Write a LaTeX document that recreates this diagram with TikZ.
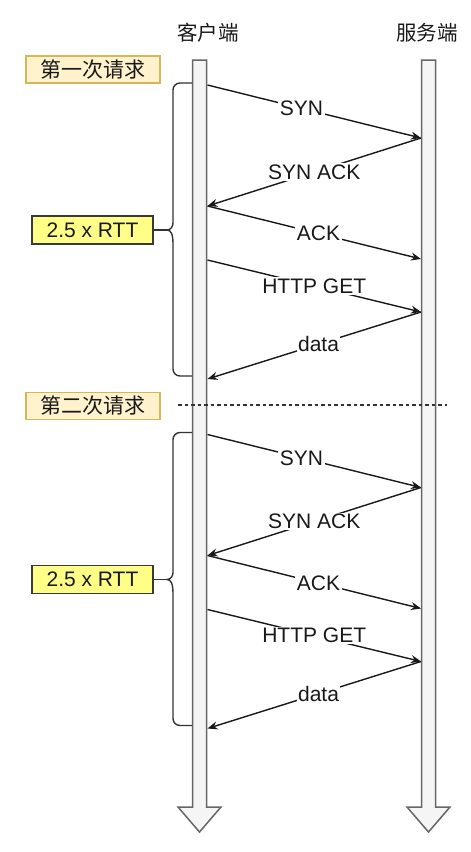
\documentclass[tikz,border=0pt]{standalone}
\usepackage{fontspec}
\setmainfont{Liberation Sans}
\newfontfamily\cjk{Noto Sans CJK SC}
\usetikzlibrary{arrows.meta,positioning}
\definecolor{barfill}{HTML}{F5F5F5}
\definecolor{bardraw}{HTML}{666666}
\definecolor{notefill}{HTML}{FFF2CC}
\definecolor{notedraw}{HTML}{D6B656}
\definecolor{rttfill}{HTML}{FFFF88}
\definecolor{rttdraw}{HTML}{36393D}
\tikzset{
  msg/.style={-{Stealth[length=10pt,width=8pt]}, line width=1.4pt, draw=black!90},
  msglabel/.style={fill=white, inner sep=1.5pt, text=black!90, font=\fontsize{21}{24}\selectfont},
  lifeline/.style={fill=barfill, draw=bardraw, line width=1.5pt},
  header/.style={text=black!90, font=\fontsize{20.5}{24}\selectfont\cjk},
  reqbox/.style={draw=notedraw, fill=notefill, line width=1.3pt, minimum width=134pt, minimum height=27pt, inner sep=0pt, text=black!90, font=\fontsize{21}{24}\selectfont\cjk},
  rttbox/.style={draw=rttdraw, fill=rttfill, line width=1.3pt, minimum width=121pt, minimum height=28pt, inner sep=0pt, text=black!90, font=\fontsize{21}{24}\selectfont},
  brace/.style={draw=black!80, line width=1.4pt},
  sepline/.style={draw=black!80, line width=1.3pt, dash pattern=on 3.5pt off 3pt},
}

% one handshake round: #1 yshift, #2 name prefix
\newcommand{\rttround}[2]{%
  \begin{scope}[yshift=#1]
    \node[rttbox] (#2rtt) at (92.5,230) {2.5 x RTT};

    % Endpoints on the lifelines
    \foreach \n/\y in {1/85,2/206,3/260,4/379} {
      \coordinate (#2c\n) at (207.5,\y);
    }
    \foreach \n/\y in {1/138,2/259,3/312} {
      \coordinate (#2s\n) at (421,\y);
    }
    \coordinate (#2tip) at (167,230);

    % Brace
    \draw[brace, rounded corners=7pt] (192,83) -| (173,216)
      [sharp corners] .. controls (173,226) and (171,230) .. (#2tip)
      .. controls (171,230) and (173,234) .. (173,244)
      [rounded corners=7pt] |- (192,376);
    \draw[brace] (#2rtt.east) -- (#2tip);

    % Messages
    \draw[msg] (#2c1) -- node[msglabel, pos=0.44] (#2syn) {SYN} (#2s1);
    \draw[msg] (#2s1) -- node[msglabel] (#2synack) {SYN ACK} (#2c2);
    \draw[msg] (#2c2) -- node[msglabel, pos=0.52] (#2ack) {ACK} (#2s2);
    \draw[msg] (#2c3) -- node[msglabel] (#2get) {HTTP GET} (#2s3);
    \draw[msg] (#2s3) -- node[msglabel, pos=0.48] (#2data) {data} (#2c4);
  \end{scope}
}

\begin{document}
\begin{tikzpicture}[x=1pt, y=-1pt]
\useasboundingbox (0,0) rectangle (471,852);

% Headers
\node[header] (client) at (208,33) {客户端};
\node[header] (server) at (427,33) {服务端};

% Lifelines
\foreach \cx in {199.5,428.5} {
  \draw[lifeline] (\cx-7,60) -- (\cx+7,60) -- (\cx+7,807) -- (\cx+21.5,807)
    -- (\cx,832) -- (\cx-21.5,807) -- (\cx-7,807) -- cycle;
}

% Requests
\node[reqbox] (req1) at (93,69.5) {第一次请求};
\node[reqbox] (req2) at (93,406) {第二次请求};

\coordinate (sepL) at (178,405);
\coordinate (sepR) at (447,405);
\draw[sepline] (sepL) -- (sepR);

\rttround{0pt}{a}
\rttround{-349.5pt}{b}

\end{tikzpicture}
\end{document}
